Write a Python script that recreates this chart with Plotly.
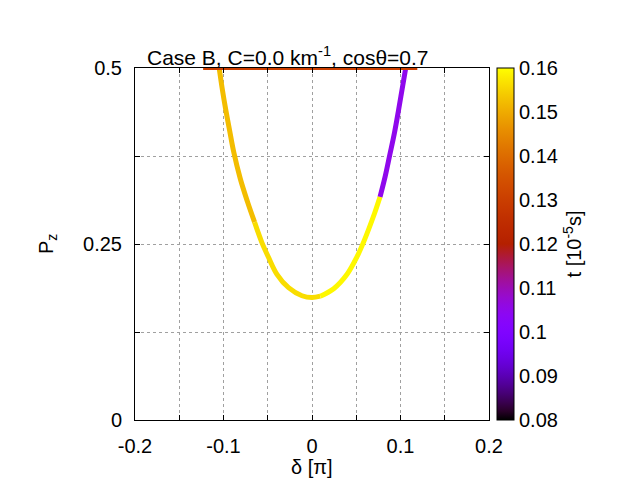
import math
import plotly.graph_objects as go

# ---- data ----
path_delta = [-0.1049, -0.1015, -0.0975, -0.0932, -0.0885, -0.0811, -0.0729, -0.0649,
              -0.0566, -0.0491, -0.0396, -0.0265, -0.0113, 0.0000, 0.0094, 0.0245,
              0.0396, 0.0509, 0.0584, 0.0708, 0.0769]
path_pz = [0.500, 0.471, 0.441, 0.412, 0.381, 0.343, 0.310, 0.281,
           0.252, 0.231, 0.207, 0.188, 0.1765, 0.174, 0.1759, 0.1865,
           0.207, 0.232, 0.253, 0.294, 0.317]
path_t = [0.1505, 0.1510, 0.1515, 0.1520, 0.1527, 0.1533, 0.1540, 0.1545,
          0.1550, 0.1555, 0.1560, 0.1565, 0.1570, 0.1575, 0.1580, 0.1585,
          0.1590, 0.1595, 0.1598, 0.1600, 0.1600]

late_delta = [0.0769, 0.0827, 0.0878, 0.0932, 0.0975, 0.1017, 0.1059]
late_pz = [0.317, 0.346, 0.376, 0.408, 0.438, 0.469, 0.500]
late_t = [0.1050, 0.1050, 0.1050, 0.1050, 0.1050, 0.1050, 0.1050]

hline_delta = [-0.123, 0.119]
hline_pz = [0.5, 0.5]
hline_t = [0.13, 0.13]

t_min, t_max = 0.08, 0.16
cb_ticks = [0.08, 0.09, 0.10, 0.11, 0.12, 0.13, 0.14, 0.15, 0.16]
x_ticks_major = [-0.2, -0.1, 0.0, 0.1, 0.2]
y_ticks_major = [0.0, 0.25, 0.5]
title_text = "Case B, C=0.0 km<sup>-1</sup>, cos\u03b8=0.7"

FONT = "Liberation Sans, Arial, sans-serif"


def pal(v):
    """gnuplot rgbformulae 7,5,15"""
    x = min(max((v - t_min) / (t_max - t_min), 0.0), 1.0)
    r = math.sqrt(x)
    g = x ** 3
    b = max(0.0, math.sin(2 * math.pi * x))
    return "rgb(%d,%d,%d)" % (round(r * 255), round(g * 255), round(b * 255))


colorscale = [[i / 40, pal(t_min + (t_max - t_min) * i / 40)] for i in range(41)]

fig = go.Figure()


def add_colored(xs, ys, ts, chunk=3, width=5, shape="spline"):
    n = len(xs)
    i = 0
    while i < n - 1:
        j = min(i + chunk, n - 1)
        tm = sum(ts[i:j + 1]) / (j - i + 1)
        fig.add_trace(go.Scatter(x=xs[i:j + 1], y=ys[i:j + 1], mode="lines",
                                 line=dict(color=pal(tm), width=width, shape=shape,
                                           smoothing=1.0),
                                 showlegend=False, hoverinfo="skip"))
        i = j


add_colored(path_delta, path_pz, path_t, chunk=7)
add_colored(late_delta, late_pz, late_t, chunk=10)
add_colored(hline_delta, hline_pz, hline_t, chunk=1, width=4, shape="linear")

cb_x0 = (497 - 135) / 354
cb_w = 17 / 354

# colorbar carrier
fig.add_trace(go.Scatter(
    x=path_delta, y=path_pz, mode="markers",
    marker=dict(size=0.1, opacity=0, color=path_t, colorscale=colorscale,
                cmin=t_min, cmax=t_max, showscale=True,
                colorbar=dict(
                    x=cb_x0, xanchor="left", xref="paper",
                    y=0.5, yanchor="middle", len=1.0, lenmode="fraction",
                    thickness=17, thicknessmode="pixels",
                    outlinewidth=1, outlinecolor="black",
                    tickmode="array", tickvals=cb_ticks,
                    ticktext=["0.08", "0.09", "0.1", "0.11", "0.12", "0.13",
                              "0.14", "0.15", "0.16"],
                    ticks="", ticklabelposition="outside",
                    tickfont=dict(family=FONT, size=20, color="black"),
                    title=dict(text="t [10<sup>-5</sup>s]", side="right",
                               font=dict(family=FONT, size=20, color="black")),
                    xpad=0, ypad=0,
                )),
    showlegend=False, hoverinfo="skip"))

# tick lines across the colour box (gnuplot style)
for tv in cb_ticks[1:-1]:
    yy = (tv - t_min) / (t_max - t_min)
    fig.add_shape(type="line", xref="paper", yref="paper",
                  x0=cb_x0, x1=cb_x0 + cb_w, y0=yy, y1=yy,
                  line=dict(color="black", width=1), layer="above")

axis_common = dict(
    showline=True, mirror="allticks", linecolor="black", linewidth=1,
    ticks="inside", ticklen=5, tickcolor="black",
    showgrid=True, gridcolor="#a0a0a0", griddash="dot", gridwidth=1,
    zeroline=False,
    tickfont=dict(family=FONT, size=20, color="black"),
    ticklabelstandoff=8,
)

fig.update_xaxes(range=[-0.2, 0.2], tickvals=x_ticks_major,
                 ticktext=["-0.2", "-0.1", "0", "0.1", "0.2"],
                 minor=dict(dtick=0.05, ticks="inside", ticklen=5, tickcolor="black",
                            showgrid=True, gridcolor="#a0a0a0", griddash="dot"),
                 **axis_common)
fig.update_yaxes(range=[0, 0.5], tickvals=y_ticks_major,
                 ticktext=["0", "0.25", "0.5"],
                 minor=dict(dtick=0.125, ticks="inside", ticklen=5, tickcolor="black",
                            showgrid=True, gridcolor="#a0a0a0", griddash="dot"),
                 **axis_common)

fig.add_annotation(text=title_text, xref="paper", yref="paper",
                   x=(287.5 - 135) / 354, y=(420 - 56) / 352, showarrow=False,
                   xanchor="center", yanchor="middle",
                   font=dict(family=FONT, size=21, color="black"))
fig.add_annotation(text="\u03b4 [\u03c0]", xref="paper", yref="paper",
                   x=0.5, y=(420 - 467) / 352, showarrow=False,
                   xanchor="center", yanchor="middle",
                   font=dict(family=FONT, size=20, color="black"))
fig.add_annotation(text="P<sub>z</sub>", xref="paper", yref="paper",
                   x=(47 - 135) / 354, y=0.5, showarrow=False, textangle=-90,
                   xanchor="center", yanchor="middle",
                   font=dict(family=FONT, size=20, color="black"))

fig.update_layout(
    width=640, height=480,
    margin=dict(l=135, r=151, t=68, b=60, autoexpand=False),
    paper_bgcolor="white", plot_bgcolor="white",
    font=dict(family=FONT, size=20, color="black"),
)

fig.write_html("out.html", config={"displayModeBar": False},
               post_script="document.body.style.margin='0';"
                           "document.body.style.overflow='hidden';")
